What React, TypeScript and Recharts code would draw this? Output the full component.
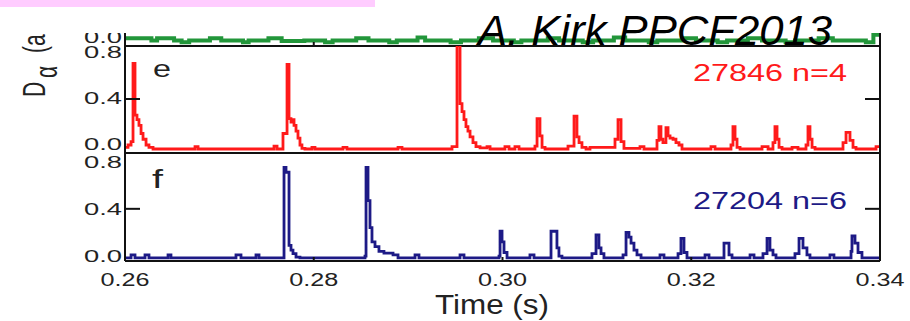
import React from 'react';
import { LineChart, Line, XAxis, YAxis } from 'recharts';

// Tick values and their printed labels
const timeTicks = [0.26, 0.28, 0.3, 0.32, 0.34];
const timeLabels = ['0.26', '0.28', '0.30', '0.32', '0.34'];
const levelTicks = [0, 0.4, 0.8];
const levelLabels = ['0.0', '0.4', '0.8'];

// Top (cropped) panel, green trace
const greenTime = [
  0.26, 0.2628, 0.2634, 0.2652, 0.266, 0.2668, 0.269, 0.2702, 0.2725, 0.2731, 0.2752, 0.2766,
  0.279, 0.2812, 0.282, 0.2845, 0.2858, 0.288, 0.2888, 0.291, 0.2918, 0.2945, 0.2956, 0.2975,
  0.299, 0.3012, 0.302, 0.3048, 0.306, 0.3085, 0.3096, 0.3118, 0.313, 0.3155, 0.3164, 0.319,
  0.3205, 0.3228, 0.3238, 0.326, 0.3275, 0.33, 0.331, 0.3335, 0.335, 0.3385, 0.3393, 0.34,
];
const greenValue = [
  -0.01, -0.03, -0.01, -0.03, -0.045, -0.03, -0.01, -0.03, -0.045, -0.03, -0.01, -0.035,
  -0.03, -0.045, -0.03, -0.01, -0.03, -0.045, -0.03, -0.005, -0.03, -0.045, -0.03, -0.01,
  -0.03, -0.045, -0.03, -0.01, -0.03, -0.045, -0.03, -0.005, -0.03, -0.045, -0.03, -0.01,
  -0.03, -0.045, -0.03, -0.01, -0.03, -0.045, -0.03, -0.01, -0.03, -0.045, 0.02, 0.02,
];

// Panel e: shot 27846, n=4
const redTime = [
  0.26, 0.26032, 0.26064, 0.26085, 0.26106, 0.26127, 0.26148, 0.2617, 0.26191, 0.26223, 0.26254, 0.26297,
  0.26742, 0.26774, 0.27579, 0.27611, 0.27674, 0.27717, 0.27738, 0.27759, 0.2777, 0.27791, 0.27812, 0.27833,
  0.27854, 0.27875, 0.27907, 0.27981, 0.28013, 0.2831, 0.28352, 0.28893, 0.28935, 0.29465, 0.29518, 0.2955,
  0.29571, 0.29592, 0.29613, 0.29634, 0.29656, 0.29687, 0.29719, 0.29762, 0.29836, 0.29868, 0.30026, 0.30069,
  0.30132, 0.30175, 0.30344, 0.30366, 0.30397, 0.30419, 0.30451, 0.30694, 0.30758, 0.30789, 0.30811, 0.30842,
  0.30885, 0.30927, 0.31192, 0.31224, 0.31256, 0.31287, 0.31457, 0.31499, 0.31637, 0.31658, 0.31679, 0.317,
  0.31732, 0.31754, 0.31775, 0.31807, 0.31838, 0.3187, 0.31902, 0.32209, 0.32252, 0.32421, 0.32442, 0.32464,
  0.32485, 0.32517, 0.3275, 0.32814, 0.32866, 0.32887, 0.32909, 0.3293, 0.32962, 0.33068, 0.33131, 0.33216,
  0.33237, 0.33258, 0.3328, 0.33312, 0.33608, 0.3364, 0.33682, 0.33714, 0.33746, 0.33958, 0.34,
];
const redValue = [
  -0.02, 0.0, 0.03, 0.71, 0.26, 0.22, 0.17, 0.1, 0.05, 0.0, -0.02, -0.035,
  -0.015, -0.035, -0.01, -0.035, 0.1, 0.7, 0.23, 0.2, 0.22, 0.17, 0.12, 0.06,
  0.0, -0.03, -0.035, -0.02, -0.035, -0.02, -0.035, -0.02, -0.035, -0.015, 0.87, 0.36,
  0.29, 0.22, 0.16, 0.12, 0.07, 0.02, -0.015, -0.025, -0.015, -0.035, -0.015, -0.035,
  -0.015, -0.035, -0.01, 0.23, 0.08, -0.02, -0.035, -0.01, 0.25, 0.07, 0.02, -0.02,
  -0.035, -0.02, 0.05, 0.22, 0.03, -0.03, -0.015, -0.035, 0.04, 0.16, 0.05, 0.02,
  0.15, 0.08, 0.06, 0.05, 0.02, 0.0, -0.035, -0.015, -0.035, 0.0, 0.16, 0.05,
  -0.02, -0.035, -0.015, -0.035, 0.02, 0.16, 0.05, -0.02, -0.035, -0.02, -0.035, 0.0,
  0.16, 0.05, -0.02, -0.035, 0.02, 0.11, 0.04, -0.02, -0.035, -0.015, -0.015,
];

// Panel f: shot 27204, n=6
const blueTime = [
  0.26, 0.26064, 0.26106, 0.26212, 0.26254, 0.26456, 0.26487, 0.27176, 0.27229, 0.27388, 0.2742, 0.27664,
  0.27685, 0.27706, 0.27738, 0.27759, 0.2778, 0.27812, 0.27854, 0.28543, 0.28554, 0.28575, 0.28596, 0.28617,
  0.28649, 0.28691, 0.28744, 0.2884, 0.28893, 0.29073, 0.29115, 0.2955, 0.29592, 0.29963, 0.29974, 0.29995,
  0.30016, 0.30048, 0.30291, 0.30334, 0.30514, 0.30577, 0.30598, 0.3063, 0.30948, 0.30991, 0.31022, 0.31044,
  0.31075, 0.31277, 0.31309, 0.3134, 0.31362, 0.31393, 0.31425, 0.31468, 0.31669, 0.31711, 0.3186, 0.31891,
  0.31923, 0.31955, 0.32146, 0.32188, 0.32347, 0.324, 0.32432, 0.32623, 0.32665, 0.3276, 0.32803, 0.32834,
  0.32866, 0.32898, 0.33099, 0.33142, 0.33184, 0.33226, 0.33258, 0.3347, 0.33512, 0.33693, 0.33703, 0.33735,
  0.33767, 0.33809, 0.34,
];
const blueValue = [
  -0.015, 0.01, -0.015, 0.01, -0.015, 0.01, -0.015, 0.01, -0.015, 0.01, -0.015, -0.015,
  0.75, 0.71, 0.09, 0.05, 0.02, -0.01, -0.015, 0.0, 0.75, 0.47, 0.24, 0.12,
  0.08, 0.04, 0.025, 0.01, -0.015, 0.01, -0.015, 0.01, -0.015, 0.0, 0.21, 0.12,
  0.03, -0.015, 0.01, -0.015, 0.21, 0.07, 0.0, -0.015, 0.02, 0.18, 0.07, 0.02,
  -0.015, 0.01, 0.2, 0.16, 0.11, 0.05, 0.01, -0.015, 0.01, -0.015, 0.02, 0.15,
  0.03, -0.015, 0.01, -0.015, 0.11, 0.01, -0.015, 0.01, -0.015, 0.02, 0.15, 0.05,
  0.01, -0.015, 0.02, 0.15, 0.07, 0.01, -0.015, 0.01, -0.015, 0.04, 0.17, 0.11,
  0.03, -0.015, -0.015,
];

const zip = (t: number[], v: number[]) => t.map((time, i) => ({ t: time, v: v[i] }));
const greenData = zip(greenTime, greenValue);
const redData = zip(redTime, redValue);
const blueData = zip(blueTime, blueValue);

const FONT = '"Liberation Sans", Arial, Helvetica, sans-serif';
const INK = '#111';
const GREEN = '#22963a';
const RED = '#ff1a1a';
const NAVY = '#1d1a86';
const TIME_DOMAIN: [number, number] = [0.26, 0.34];

// left axis: value labels plus one inward tick at 0.4
function leftTick(dy: number) {
  return (props: any) => {
    const { x, y, payload } = props;
    const v = payload.value;
    const i = levelTicks.indexOf(v);
    return (
      <g>
        {v === 0.4 && <line x1={x + 3} x2={x + 18} y1={y} y2={y} stroke={INK} strokeWidth={2} />}
        <text x={x} y={y + dy} textAnchor="end" fontSize={17} fontFamily={FONT} fill="#222"
          textLength={38} lengthAdjust="spacingAndGlyphs">
          {levelLabels[i]}
        </text>
      </g>
    );
  };
}

function rightTick(props: any) {
  const { x, y, payload } = props;
  if (payload.value !== 0.4) return <g />;
  return <line x1={x - 15} x2={x} y1={y} y2={y} stroke={INK} strokeWidth={2} />;
}

function upTick(props: any) {
  const { x, y } = props;
  return <line x1={x} x2={x} y1={y - 4} y2={y} stroke={INK} strokeWidth={2} />;
}

function downTick(props: any) {
  const { x, y } = props;
  return <line x1={x} x2={x} y1={y} y2={y + 4} stroke={INK} strokeWidth={2} />;
}

function timeTick(props: any) {
  const { x, y, payload } = props;
  const i = timeTicks.indexOf(payload.value);
  return (
    <g>
      <line x1={x} x2={x} y1={y - 4} y2={y} stroke={INK} strokeWidth={2} />
      <text x={x} y={y + 25} textAnchor="middle" fontSize={18} fontFamily={FONT} fill="#222"
        textLength={49} lengthAdjust="spacingAndGlyphs">
        {timeLabels[i]}
      </text>
    </g>
  );
}

const axisLine = { stroke: INK, strokeWidth: 2 };

export default function App() {
  return (
    <div style={{ position: 'absolute', left: 0, top: 0, width: 910, height: 321, background: '#fff', overflow: 'hidden' }}>
      {/* cropped top panel */}
      <div style={{ position: 'absolute', left: 0, top: 33, width: 910, height: 14, overflow: 'hidden' }}>
        <div style={{ position: 'absolute', left: 0, top: -33 }}>
          <LineChart width={910} height={47} data={greenData} margin={{ top: 13, right: 0, bottom: 0, left: 0 }}>
            <XAxis dataKey="t" type="number" domain={TIME_DOMAIN} allowDataOverflow ticks={timeTicks}
              height={1} axisLine={axisLine} tickLine={false} tickSize={0} tickMargin={0} tick={upTick} />
            <YAxis type="number" domain={[-0.078, 0.209]} allowDataOverflow ticks={[0]} width={125}
              axisLine={axisLine} tickLine={false} tickSize={0} tickMargin={3} tick={leftTick(6)} />
            <YAxis yAxisId="r" orientation="right" type="number" domain={[-0.078, 0.209]} allowDataOverflow
              width={30} axisLine={axisLine} tick={false} tickLine={false} />
            <Line type="stepAfter" dataKey="v" stroke={GREEN} strokeWidth={4} dot={false} isAnimationActive={false} />
          </LineChart>
        </div>
      </div>

      {/* panel e */}
      <div style={{ position: 'absolute', left: 0, top: 0 }}>
        <LineChart width={910} height={160} data={redData} margin={{ top: 46, right: 0, bottom: 0, left: 0 }}>
          <XAxis dataKey="t" type="number" domain={TIME_DOMAIN} allowDataOverflow ticks={timeTicks}
            height={7} axisLine={axisLine} tickLine={false} tick={false} />
          <YAxis type="number" domain={[-0.0696, 0.861]} allowDataOverflow ticks={levelTicks} interval={0}
            width={125} axisLine={axisLine} tickLine={false} tickSize={0} tickMargin={3} tick={leftTick(5)} />
          <YAxis yAxisId="r" orientation="right" type="number" domain={[-0.0696, 0.861]} allowDataOverflow
            ticks={levelTicks} interval={0} width={30} axisLine={axisLine} tickLine={false} tickSize={0}
            tickMargin={0} tick={rightTick} />
          <Line type="stepAfter" dataKey="v" stroke={RED} strokeWidth={2.8} dot={false} isAnimationActive={false} />
        </LineChart>
      </div>

      {/* panel f */}
      <div style={{ position: 'absolute', left: 0, top: 0 }}>
        <LineChart width={910} height={321} data={blueData} margin={{ top: 153, right: 0, bottom: 0, left: 0 }}>
          <XAxis dataKey="t" type="number" domain={TIME_DOMAIN} allowDataOverflow ticks={timeTicks} interval={0}
            height={60} axisLine={axisLine} tickLine={false} tickSize={0} tickMargin={0} tick={timeTick} />
          <XAxis xAxisId="top" orientation="top" dataKey="t" type="number" domain={TIME_DOMAIN} allowDataOverflow
            ticks={timeTicks} interval={0} height={0} axisLine={axisLine} tickLine={false} tickSize={0}
            tickMargin={0} tick={downTick} />
          <YAxis type="number" domain={[-0.042, 0.873]} allowDataOverflow ticks={levelTicks} interval={0}
            width={125} axisLine={axisLine} tickLine={false} tickSize={0} tickMargin={3} tick={leftTick(6)} />
          <YAxis yAxisId="r" orientation="right" type="number" domain={[-0.042, 0.873]} allowDataOverflow
            ticks={levelTicks} interval={0} width={30} axisLine={axisLine} tickLine={false} tickSize={0}
            tickMargin={0} tick={rightTick} />
          <Line type="stepAfter" dataKey="v" stroke={NAVY} strokeWidth={2.8} dot={false} isAnimationActive={false} />
        </LineChart>
      </div>

      {/* annotations */}
      <svg width={910} height={321} style={{ position: 'absolute', left: 0, top: 0, pointerEvents: 'none' }}>
        <defs>
          <clipPath id="ylabel-clip">
            <rect x={0} y={33} width={90} height={120} />
          </clipPath>
        </defs>
        <rect x={0} y={0} width={375} height={7} fill="#ffccff" />
        <text x={478} y={45} fontSize={42} fontStyle="italic" fontFamily={FONT} fill="#000"
          textLength={354} lengthAdjust="spacingAndGlyphs">
          A. Kirk PPCF2013
        </text>
        <g clipPath="url(#ylabel-clip)">
          <text transform="translate(45,97) scale(1.5,1) rotate(-90)" fontSize={21} fontFamily={FONT} fill="#222">
            <tspan x={0} y={0}>D</tspan>
            <tspan x={19} y={8}>α</tspan>
            <tspan x={44} y={0}>(a.u.)</tspan>
          </text>
        </g>
        <text x={153} y={77} fontSize={24} fontFamily={FONT} fill="#222" textLength={18} lengthAdjust="spacingAndGlyphs">e</text>
        <text x={152} y={188} fontSize={26} fontFamily={FONT} fill="#222" textLength={11} lengthAdjust="spacingAndGlyphs">f</text>
        <text x={693} y={81} fontSize={23} fontFamily={FONT} fill={RED} textLength={154} lengthAdjust="spacingAndGlyphs">
          27846 n=4
        </text>
        <text x={693} y={209} fontSize={23} fontFamily={FONT} fill={NAVY} textLength={154} lengthAdjust="spacingAndGlyphs">
          27204 n=6
        </text>
        <text x={492} y={314} textAnchor="middle" fontSize={27} fontFamily={FONT} fill="#222"
          textLength={114} lengthAdjust="spacingAndGlyphs">
          Time (s)
        </text>
      </svg>
    </div>
  );
}
